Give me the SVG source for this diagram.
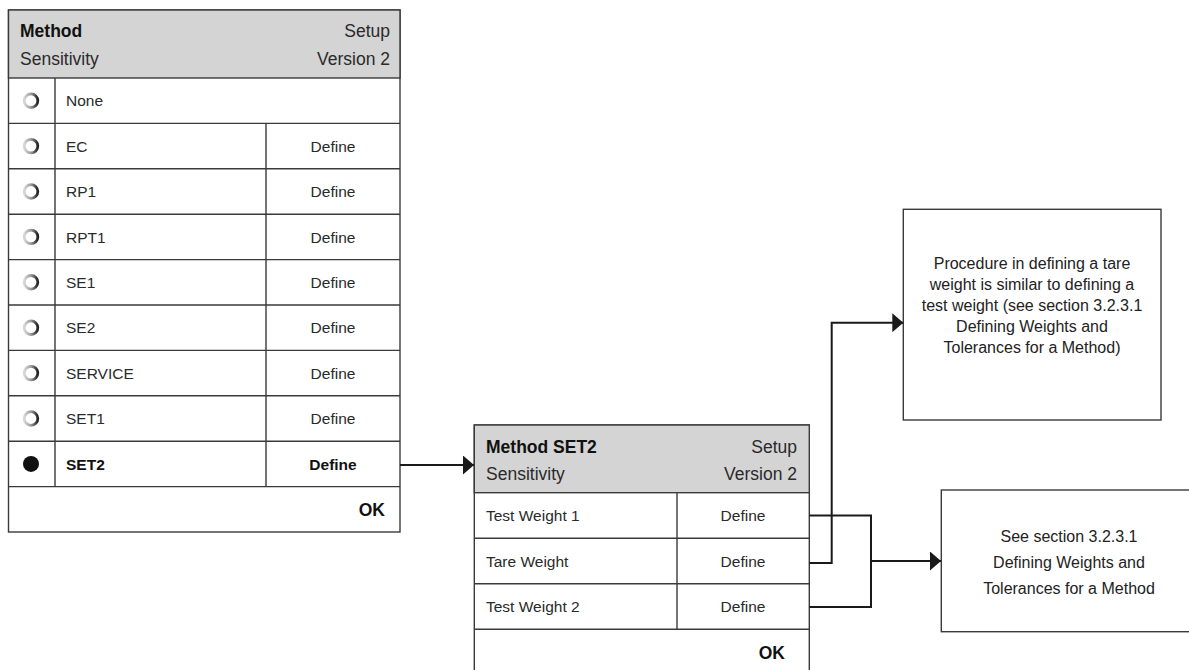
<svg xmlns="http://www.w3.org/2000/svg" width="1189" height="670" viewBox="0 0 1189 670">
<defs>
<style>
.t{font-family:"Liberation Sans",Arial,sans-serif;fill:#2a2a2a}
.h{font-size:17.5px}
.b{font-weight:bold;fill:#111}
.r{font-size:15.5px}
.m{text-anchor:middle}
.e{text-anchor:end}
.n{font-size:16px;fill:#222;text-anchor:middle}
.frame{fill:#fff;stroke:#3a3a3a;stroke-width:1.4}
.head{fill:#d4d4d4;stroke:#3a3a3a;stroke-width:1.4}
.ln{stroke:#3a3a3a;stroke-width:1.4;fill:none}
.ring{fill:#fff;stroke:url(#rg);stroke-width:2.8}
.con{stroke:#1a1a1a;stroke-width:2;fill:none}
</style>
<linearGradient id="rg" x1="0" y1="0" x2="1" y2="0">
<stop offset="0" stop-color="#d8d8d8"/>
<stop offset="0.5" stop-color="#9a9a9a"/>
<stop offset="1" stop-color="#222"/>
</linearGradient>
<marker id="ah" markerWidth="11" markerHeight="19" refX="11" refY="9.5" orient="auto" markerUnits="userSpaceOnUse">
<path d="M0,0 L11,9.5 L0,19 Z" fill="#1a1a1a"/>
</marker>
</defs>

<g id="panel-method">
<rect class="frame" x="8.5" y="10" width="391.5" height="522"/>
<rect class="head" x="8.5" y="10" width="391.5" height="68"/>
<text class="t h b" x="20" y="37">Method</text>
<text class="t h" x="20" y="65">Sensitivity</text>
<text class="t h e" x="390" y="37">Setup</text>
<text class="t h e" x="390" y="65">Version 2</text>
<path class="ln" d="M8.5,123.4H400M8.5,168.8H400M8.5,214.2H400M8.5,259.6H400M8.5,305H400M8.5,350.4H400M8.5,395.8H400M8.5,441.2H400M8.5,486.6H400M55,78V486.6M266,123.4V486.6"/>
<circle class="ring" cx="31" cy="100.7" r="6.8"/>
<circle class="ring" cx="31" cy="146.1" r="6.8"/>
<circle class="ring" cx="31" cy="191.5" r="6.8"/>
<circle class="ring" cx="31" cy="236.9" r="6.8"/>
<circle class="ring" cx="31" cy="282.3" r="6.8"/>
<circle class="ring" cx="31" cy="327.7" r="6.8"/>
<circle class="ring" cx="31" cy="373.1" r="6.8"/>
<circle class="ring" cx="31" cy="418.5" r="6.8"/>
<circle cx="31" cy="463.9" r="8" fill="#111"/>
<text class="t r" x="66" y="106.3">None</text>
<text class="t r" x="66" y="151.7">EC</text>
<text class="t r" x="66" y="197.1">RP1</text>
<text class="t r" x="66" y="242.5">RPT1</text>
<text class="t r" x="66" y="287.9">SE1</text>
<text class="t r" x="66" y="333.3">SE2</text>
<text class="t r" x="66" y="378.7">SERVICE</text>
<text class="t r" x="66" y="424.1">SET1</text>
<text class="t r b" x="66" y="469.5">SET2</text>
<text class="t r m" x="333" y="151.7">Define</text>
<text class="t r m" x="333" y="197.1">Define</text>
<text class="t r m" x="333" y="242.5">Define</text>
<text class="t r m" x="333" y="287.9">Define</text>
<text class="t r m" x="333" y="333.3">Define</text>
<text class="t r m" x="333" y="378.7">Define</text>
<text class="t r m" x="333" y="424.1">Define</text>
<text class="t r m b" x="333" y="469.5">Define</text>
<text class="t h b e" x="385" y="516">OK</text>
</g>

<g id="panel-set2">
<rect class="frame" x="474.3" y="425" width="335" height="250"/>
<rect class="head" x="474.3" y="425" width="335" height="67.7"/>
<text class="t h b" x="486" y="453">Method SET2</text>
<text class="t h" x="486" y="480">Sensitivity</text>
<text class="t h e" x="797" y="453">Setup</text>
<text class="t h e" x="797" y="480">Version 2</text>
<path class="ln" d="M474.3,538.2H809.3M474.3,583.7H809.3M474.3,629.2H809.3M677,492.7V629.2"/>
<text class="t r" x="486" y="521">Test Weight 1</text>
<text class="t r" x="486" y="566.5">Tare Weight</text>
<text class="t r" x="486" y="612">Test Weight 2</text>
<text class="t r m" x="743" y="521">Define</text>
<text class="t r m" x="743" y="566.5">Define</text>
<text class="t r m" x="743" y="612">Define</text>
<text class="t h b e" x="785" y="659">OK</text>
</g>

<g id="note-tare">
<rect class="frame" x="903.3" y="209.3" width="257.7" height="210.7"/>
<text class="t n" x="1032" y="269">Procedure in defining a tare</text>
<text class="t n" x="1032" y="290">weight is similar to defining a</text>
<text class="t n" x="1032" y="311">test weight (see section 3.2.3.1</text>
<text class="t n" x="1032" y="332">Defining Weights and</text>
<text class="t n" x="1032" y="353">Tolerances for a Method)</text>
</g>

<g id="note-test">
<rect class="frame" x="941.3" y="490" width="260" height="141.7"/>
<text class="t n" x="1069" y="542">See section 3.2.3.1</text>
<text class="t n" x="1069" y="568">Defining Weights and</text>
<text class="t n" x="1069" y="594">Tolerances for a Method</text>
</g>

<g id="connectors">
<path class="con" d="M400,465H474" marker-end="url(#ah)"/>
<path class="con" d="M809.3,515.5H871V607H809.3"/>
<path class="con" d="M871,561H941" marker-end="url(#ah)"/>
<path class="con" d="M809.3,563H831.7V322.7H903.3" marker-end="url(#ah)"/>
</g>
</svg>
